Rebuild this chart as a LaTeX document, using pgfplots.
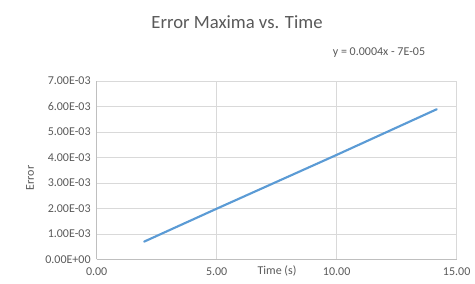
\documentclass[border=0pt]{standalone}
\usepackage{fontspec}
\setmainfont{Carlito}
\usepackage{pgfplots}
\pgfplotsset{compat=1.18}
\definecolor{txt}{HTML}{595959}
\definecolor{grd}{HTML}{D9D9D9}
\definecolor{axl}{HTML}{BFBFBF}
\definecolor{ser}{HTML}{5B9BD5}
\begin{document}
\begin{tikzpicture}
\useasboundingbox (0,0) rectangle (356.25pt,213pt);
\begin{axis}[
  at={(72.5pt,18.4pt)}, anchor=south west,
  scale only axis, width=270pt, height=133.9pt,
  xmin=0, xmax=15, ymin=0, ymax=0.007,
  xtick={0,5,10,15}, ytick={0,0.001,...,0.0071},
  xticklabels={0.00,5.00,10.00,15.00},
  yticklabels={0.00E+00,1.00E-03,2.00E-03,3.00E-03,4.00E-03,5.00E-03,6.00E-03,7.00E-03},
  scaled y ticks=false,
  grid=major, major grid style={grd, line width=0.6pt},
  axis line style={draw=none},
  axis x line*=bottom, axis y line*=left,
  x axis line style={draw=axl, line width=0.6pt},
  y axis line style={draw=axl, line width=0.6pt},
  tick style={draw=none},
  ticklabel style={font=\fontsize{9}{10}\selectfont, text=txt},
  xticklabel style={yshift=-2.5pt},
  yticklabel style={xshift=-1pt},
  clip=false,
]
\addplot[ser, line width=1.6pt, line cap=round] coordinates {
(1.98,0.00070) (5,0.00199) (10,0.00410) (14.17,0.00589)
};
\end{axis}
\node[font=\fontsize{14}{16}\selectfont, text=txt] at (177.75pt,196.7pt) {Error Maxima vs. Time};
\node[font=\fontsize{9}{10}\selectfont, text=txt] at (284.25pt,173.2pt) {y = 0.0004x - 7E-05};
\node[font=\fontsize{9}{10}\selectfont, text=txt] at (207.75pt,9.8pt) {Time (s)};
\node[font=\fontsize{9}{10}\selectfont, text=txt, rotate=90] at (22.5pt,79.5pt) {Error};
\end{tikzpicture}
\end{document}
